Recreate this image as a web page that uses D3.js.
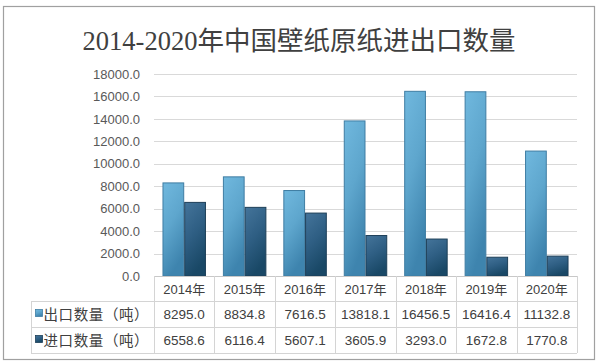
<!DOCTYPE html>
<html><head><meta charset="utf-8">
<script src="https://cdn.jsdelivr.net/npm/d3@7"></script>
<style>
html,body{margin:0;padding:0;background:#fff;}
svg{display:block;}
</style></head>
<body>
<svg id="c" width="599" height="364"></svg>
<script>
const title = "2014-2020年中国壁纸原纸进出口数量";
const years = ["2014年","2015年","2016年","2017年","2018年","2019年","2020年"];
const seriesNames = ["出口数量（吨）","进口数量（吨）"];
const exportVals = [8295.0, 8834.8, 7616.5, 13818.1, 16456.5, 16416.4, 11132.8];
const importVals = [6558.6, 6116.4, 5607.1, 3605.9, 3293.0, 1672.8, 1770.8];
const yTicks = [0,2000,4000,6000,8000,10000,12000,14000,16000,18000];

(function(){
const svg = d3.select("#c");
const W = 599, H = 364;
const pL = 154, pR = 577, pT = 74, pB = 276;
const tableLeft = 31;
const rowTops = [276, 301, 327, 353];

svg.append("rect").attr("x",0).attr("y",0).attr("width",W).attr("height",H).attr("fill","#fff");
svg.append("rect").attr("x",3.5).attr("y",6.5).attr("width",591).attr("height",353)
  .attr("fill","#fff").attr("stroke","#a0a0a0").attr("stroke-width",1.2);

const defs = svg.append("defs");
function grad(id, stops){
  const g = defs.append("linearGradient").attr("id",id).attr("x1","0").attr("y1","0").attr("x2","0.35").attr("y2","1");
  stops.forEach(s=>g.append("stop").attr("offset",s[0]).attr("stop-color",s[1]));
}
grad("gExp", [[0,"#70b8de"],[0.5,"#5ea6cd"],[1,"#3e84ae"]]);
grad("gImp", [[0,"#44749a"],[0.5,"#2f5f84"],[1,"#194866"]]);
const fills = ["url(#gExp)","url(#gImp)"];
const strokes = ["#3f7da3","#1d3f58"];

svg.append("text").attr("x",299).attr("y",50).attr("text-anchor","middle")
  .attr("font-family","'Liberation Serif','DejaVu Serif','Noto Sans CJK SC',serif")
  .attr("font-size",26.5).attr("fill","#404040").text(title);

const y = d3.scaleLinear().domain([0,18000]).range([pB, pT]);
const x = d3.scaleBand().domain(years).range([pL, pR]).paddingInner(0).paddingOuter(0);
const xs = d3.scaleBand().domain([0,1]).range([0, x.bandwidth()]).paddingInner(0).paddingOuter(0.39);

svg.append("g").selectAll("line").data(yTicks.filter(d=>d>0)).join("line")
  .attr("x1",pL).attr("x2",pR).attr("y1",d=>Math.round(y(d))+0.5).attr("y2",d=>Math.round(y(d))+0.5)
  .attr("stroke","#d9d9d9").attr("stroke-width",1);

const yAxis = d3.axisLeft(y).tickValues(yTicks).tickFormat(d=>d3.format(".1f")(d)).tickSize(0).tickPadding(14);
const ya = svg.append("g").attr("transform",`translate(${pL},0)`).call(yAxis);
ya.select(".domain").remove();
ya.selectAll("text").attr("font-family","'Liberation Sans','Noto Sans',sans-serif").attr("font-size",13).attr("fill","#595959");

const data = years.map((yr,i)=>({yr, vals:[exportVals[i], importVals[i]]}));
const groups = svg.append("g").selectAll("g").data(data).join("g")
  .attr("transform",d=>`translate(${x(d.yr)},0)`);
groups.selectAll("rect").data(d=>d.vals.map((v,k)=>({v,k}))).join("rect")
  .attr("x",d=>xs(d.k)+0.5).attr("width",xs.bandwidth()-1)
  .attr("y",d=>y(d.v)).attr("height",d=>pB - y(d.v))
  .attr("fill",d=>fills[d.k]).attr("stroke",d=>strokes[d.k]).attr("stroke-width",1);

const tg = svg.append("g");
const lineC = "#d4d4d4";
tg.append("line").attr("x1",pL).attr("x2",pR).attr("y1",rowTops[0]+0.5).attr("y2",rowTops[0]+0.5).attr("stroke","#c8c8c8");
[1,2,3].forEach(r=>{
  tg.append("line").attr("x1",tableLeft).attr("x2",pR).attr("y1",rowTops[r]+0.5).attr("y2",rowTops[r]+0.5).attr("stroke",lineC);
});
const colEdges = years.map(d=>x(d)).concat([pR]);
colEdges.forEach(cx=>{
  tg.append("line").attr("x1",Math.round(cx)+0.5).attr("x2",Math.round(cx)+0.5).attr("y1",rowTops[0]).attr("y2",rowTops[3]).attr("stroke",lineC);
});
tg.append("line").attr("x1",tableLeft+0.5).attr("x2",tableLeft+0.5).attr("y1",rowTops[1]).attr("y2",rowTops[3]).attr("stroke",lineC);

const numFont = "'Liberation Sans','Noto Sans',sans-serif";
tg.selectAll("text.yr").data(years).join("text").attr("class","yr")
  .attr("x",d=>x(d)+x.bandwidth()/2).attr("y",(rowTops[0]+rowTops[1])/2+5)
  .attr("text-anchor","middle").attr("font-family",numFont+",'Noto Sans CJK SC'")
  .attr("font-size",13).attr("fill","#404040").text(d=>d);

const rowsVals = [exportVals, importVals];
rowsVals.forEach((vals,r)=>{
  const cy = (rowTops[r+1]+rowTops[r+2])/2;
  tg.selectAll(null).data(vals).join("text")
    .attr("x",(d,i)=>x(years[i])+x.bandwidth()/2).attr("y",cy+5)
    .attr("text-anchor","middle").attr("font-family",numFont)
    .attr("font-size",13.5).attr("fill","#404040").text(d=>d3.format(".1f")(d));
  tg.append("rect").attr("x",35.5).attr("y",cy-4.5).attr("width",7).attr("height",7)
    .attr("fill",fills[r]).attr("stroke",strokes[r]).attr("stroke-width",0.8);
  tg.append("text").attr("x",43.5).attr("y",cy+5.5)
    .attr("font-family","'Noto Sans CJK SC',sans-serif").attr("font-size",14.5).attr("fill","#404040")
    .attr("letter-spacing",0.6)
    .text(seriesNames[r]);
});
})();
</script>
</body></html>
